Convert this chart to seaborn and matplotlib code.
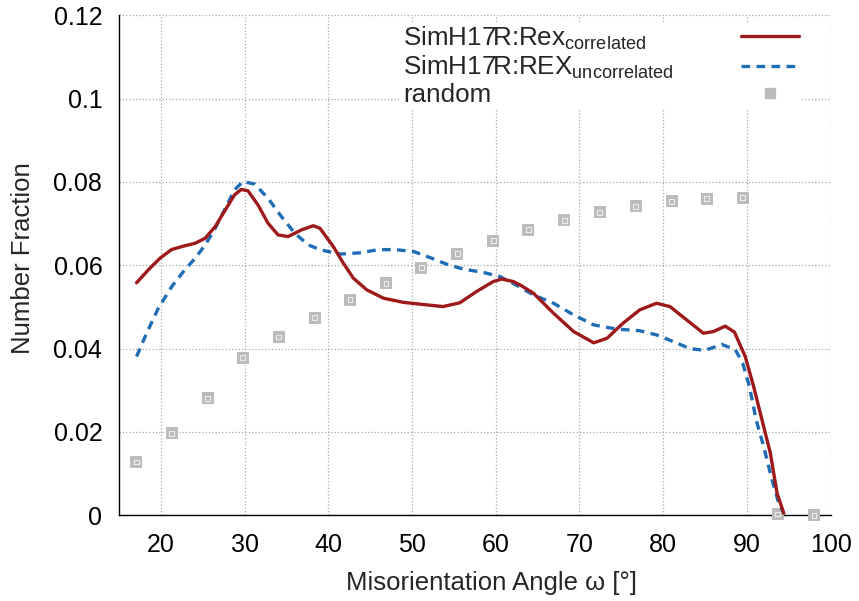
import matplotlib
matplotlib.use("Agg")
import matplotlib.pyplot as plt
import seaborn as sns
import pandas as pd
from matplotlib.lines import Line2D
from matplotlib.ticker import FuncFormatter

# ---- data ----
corr_x = [17.1, 18.5, 19.9, 21.3, 22.7, 24.1, 25.3, 26.5, 27.7, 28.8, 29.6, 30.4, 31.6, 32.8,
          34.0, 35.2, 36.8, 38.2, 39.0, 40.6, 41.8, 43.0, 44.6, 46.6, 49.0, 51.3, 53.7, 55.7,
          57.7, 59.7, 60.7, 62.1, 62.9, 64.5, 66.9, 69.3, 71.7, 73.3, 75.2, 77.2, 79.2, 80.8,
          82.8, 84.8, 86.0, 87.4, 88.5, 89.8, 90.8, 91.8, 92.8, 93.6, 94.4]
corr_y = [0.0558, 0.0589, 0.0617, 0.0638, 0.0646, 0.0653, 0.0665, 0.0693, 0.0733, 0.0769, 0.0782,
          0.0779, 0.0745, 0.0701, 0.0673, 0.0669, 0.0685, 0.0695, 0.0689, 0.0645, 0.0605, 0.0569,
          0.0541, 0.0521, 0.0511, 0.0506, 0.0501, 0.0510, 0.0537, 0.0561, 0.0567, 0.0561, 0.0553,
          0.0533, 0.0485, 0.0441, 0.0414, 0.0425, 0.0461, 0.0493, 0.0509, 0.0501, 0.0469, 0.0437,
          0.0441, 0.0454, 0.0440, 0.0381, 0.0309, 0.0229, 0.0149, 0.0053, 0.0005]

uncorr_x = [17.1, 18.3, 19.7, 21.3, 22.7, 24.1, 25.3, 26.5, 27.7, 28.8, 29.8, 31.2, 32.8, 34.4,
            36.0, 37.6, 39.1, 41.4, 43.8, 45.8, 47.8, 50.2, 52.1, 54.1, 56.1, 58.5, 60.5, 62.7,
            64.5, 66.9, 69.3, 71.7, 74.4, 77.2, 79.2, 81.2, 83.2, 85.0, 87.0, 88.6, 89.5, 90.3,
            91.1, 92.0, 93.0, 93.8, 94.4]
uncorr_y = [0.0381, 0.0437, 0.0497, 0.0549, 0.0585, 0.0617, 0.0649, 0.0689, 0.0737, 0.0781, 0.0801,
            0.0795, 0.0761, 0.0717, 0.0677, 0.0649, 0.0637, 0.0627, 0.0630, 0.0637, 0.0638, 0.0633,
            0.0619, 0.0603, 0.0591, 0.0583, 0.0573, 0.0550, 0.0529, 0.0509, 0.0481, 0.0457, 0.0447,
            0.0443, 0.0433, 0.0417, 0.0400, 0.0396, 0.0410, 0.0398, 0.0365, 0.0309, 0.0229, 0.0165,
            0.0085, 0.0029, 0.0005]

rand_x = [17.05, 21.3, 25.6, 29.8, 34.1, 38.4, 42.6, 46.9, 51.1, 55.4, 59.7, 63.9, 68.2, 72.4,
          76.7, 81.0, 85.2, 89.5, 93.7, 98.0]
rand_y = [0.0128, 0.0197, 0.0281, 0.0378, 0.0428, 0.0474, 0.0517, 0.0557, 0.0594, 0.0628, 0.0659,
          0.0685, 0.0708, 0.0727, 0.0742, 0.0754, 0.0760, 0.0762, 0.0003, 0.0]

x_ticks = [20, 30, 40, 50, 60, 70, 80, 90, 100]
y_ticks = [0, 0.02, 0.04, 0.06, 0.08, 0.10, 0.12]

label_corr = r"SimH17R:Rex$_{\mathrm{correlated}}$"
label_uncorr = r"SimH17R:REX$_{\mathrm{uncorrelated}}$"
label_rand = "random"

RED = "#9e1a1a"
BLUE = "#1f6db5"
GRAY = "#bcbcbc"

sns.set_style("white")
plt.rcParams["font.family"] = ["Liberation Sans", "DejaVu Sans"]
plt.rcParams["mathtext.fontset"] = "custom"
plt.rcParams["mathtext.rm"] = "Liberation Sans"
plt.rcParams["mathtext.it"] = "Liberation Sans"

fig = plt.figure(figsize=(8.59, 6.01), dpi=100)
ax = fig.add_axes([0.1385, 0.1426, 0.967 - 0.1385, 0.9745 - 0.1426])

df_r = pd.DataFrame({"x": rand_x, "y": rand_y})
df_c = pd.DataFrame({"x": corr_x, "y": corr_y})
df_u = pd.DataFrame({"x": uncorr_x, "y": uncorr_y})

sns.scatterplot(data=df_r, x="x", y="y", ax=ax, marker="s", s=70, color=GRAY,
                edgecolor=GRAY, linewidth=0, zorder=3, clip_on=False)
sns.scatterplot(data=df_r, x="x", y="y", ax=ax, marker="s", s=12, facecolor="none",
                edgecolor="#ececec", linewidth=0.8, zorder=3, clip_on=False)
sns.lineplot(data=df_c, x="x", y="y", ax=ax, color=RED, lw=2.4, zorder=5, sort=False)
sns.lineplot(data=df_u, x="x", y="y", ax=ax, color=BLUE, lw=2.4, zorder=4, sort=False)
ax.lines[-1].set_dashes((2.6, 1.9))
for ln in ax.lines:
    ln.set_solid_joinstyle("round")
    ln.set_dash_joinstyle("round")

ax.set_xlim(15, 100)
ax.set_ylim(0, 0.12)
ax.set_xticks(x_ticks)
ax.set_yticks(y_ticks)
ax.yaxis.set_major_formatter(FuncFormatter(lambda v, p: f"{v:g}"))
ax.grid(True, color="#a8a8a8", linestyle=":", linewidth=0.9)
ax.set_axisbelow(True)
for s in ["top", "right"]:
    ax.spines[s].set_visible(False)
for s in ["left", "bottom"]:
    ax.spines[s].set_color("black")
    ax.spines[s].set_linewidth(1.0)
ax.tick_params(direction="in", length=7, width=1.0, labelsize=18, colors="black")
ax.tick_params(axis="y", pad=12)
ax.tick_params(axis="x", pad=13)

ax.set_xlabel("Misorientation Angle ω [°]", fontsize=18.5)
ax.set_ylabel("Number Fraction", fontsize=18.5)
ax.xaxis.set_label_coords(0.523, -0.112)
ax.yaxis.set_label_coords(-0.118, 0.515)

handles = [
    Line2D([], [], color=RED, lw=2.4),
    Line2D([], [], color=BLUE, lw=2.4, dashes=(2.6, 1.9)),
    Line2D([], [], color=GRAY, marker="s", markersize=6.5, lw=0),
]
leg = ax.legend(handles, [label_corr, label_uncorr, label_rand], loc="upper left",
                bbox_to_anchor=(0.396, 0.987), markerfirst=False, frameon=True,
                fontsize=18.7, handlelength=2.23, handletextpad=1.0, labelspacing=0.09,
                borderpad=0.1, borderaxespad=0.0, fancybox=False)
leg.get_frame().set_edgecolor("none")
leg.get_frame().set_facecolor("white")
leg.get_frame().set_alpha(1)

# left-align label texts while keeping handles flush right
fig.canvas.draw()
for column in leg._legend_handle_box.get_children():
    for item in column.get_children():
        item.mode = "expand"
        item.width = 396

fig.savefig("out.png", dpi=100)
